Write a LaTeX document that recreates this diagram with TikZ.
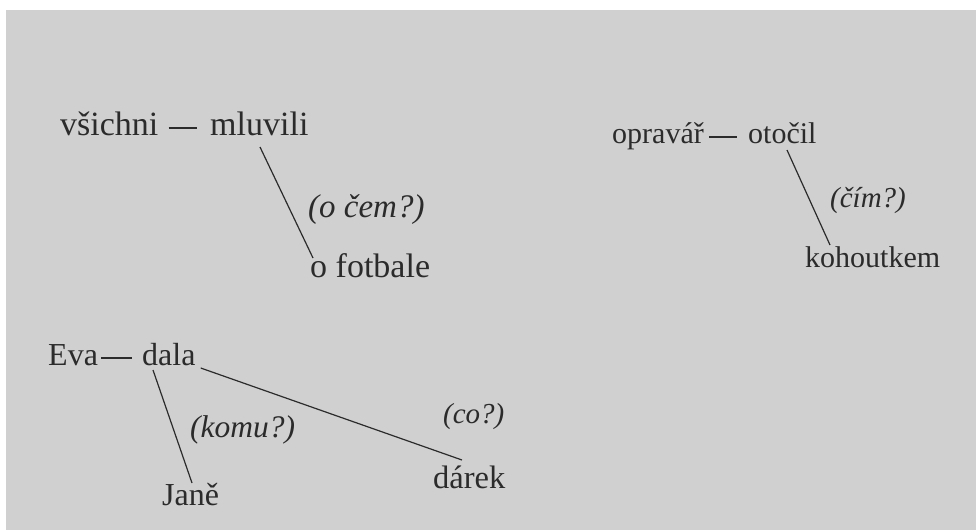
\documentclass[tikz,border=0pt]{standalone}
\usepackage{fontspec}
\setmainfont{Liberation Serif}
\usepackage{tikz}
\usetikzlibrary{positioning,calc}
\usepackage{xcolor}
\definecolor{paper}{HTML}{D0D0D0}
\definecolor{ink}{HTML}{2B2B2B}

\begin{document}
\begin{tikzpicture}[
    x=1pt, y=-1pt,
    every node/.style={inner sep=0pt, text=ink, anchor=base west},
    word/.style={font=\fontsize{32}{36}\selectfont},
    question/.style={font=\fontsize{31.5}{36}\selectfont\itshape},
    link/.style={draw=ink, line width=1.2pt},
    dashlink/.style={draw=ink, line width=1.8pt}
]
    % page
    \fill[white] (0,0) rectangle (976,530);
    \fill[paper] (6,10) rectangle (976,530);
    \useasboundingbox (0,0) rectangle (976,530);

    % všichni mluvili o fotbale
    \node[word, font=\fontsize{34}{38}\selectfont] (vsichni) at (60,135) {všichni};
    \node[word, font=\fontsize{34}{38}\selectfont] (mluvili) at (210,135) {mluvili};
    \node[word, font=\fontsize{34}{38}\selectfont] (fotbale) at (310,277) {o fotbale};
    \node[question, font=\fontsize{33}{38}\selectfont\itshape] (ocem) at (308,217) {(o čem?)};
    \draw[dashlink, shorten <=10pt, shorten >=13pt] ([yshift=7pt]vsichni.base east) -- ([yshift=7pt]mluvili.base west);
    \draw[link] ([xshift=50pt, yshift=-12pt]mluvili.base west) -- ([xshift=3pt, yshift=19pt]fotbale.base west);

    % opravář otočil kohoutkem
    \node[word, font=\fontsize{30}{34}\selectfont] (opravar) at (612,143) {opravář};
    \node[word, font=\fontsize{30}{34}\selectfont] (otocil) at (748,143) {otočil};
    \node[word, font=\fontsize{30}{34}\selectfont] (kohoutkem) at (805,267) {kohoutkem};
    \node[question, font=\fontsize{29}{34}\selectfont\itshape] (cim) at (830,207) {(čím?)};
    \draw[dashlink, shorten <=5pt, shorten >=11pt] ([yshift=6pt]opravar.base east) -- ([yshift=6pt]otocil.base west);
    \draw[link] ([xshift=39pt, yshift=-7pt]otocil.base west) -- ([xshift=25pt, yshift=22pt]kohoutkem.base west);

    % Eva dala Janě dárek
    \node[word] (eva) at (48,365) {Eva};
    \node[word] (dala) at (142,365) {dala};
    \node[word] (jane) at (162,505) {Janě};
    \node[word, font=\fontsize{32.5}{36}\selectfont] (darek) at (433,488) {dárek};
    \node[question] (komu) at (190,437) {(komu?)};
    \node[question, font=\fontsize{29}{34}\selectfont\itshape] (co) at (443,423) {(co?)};
    \draw[dashlink, shorten <=3pt, shorten >=10pt] ([yshift=7pt]eva.base east) -- ([yshift=7pt]dala.base west);
    \draw[link] ([xshift=11pt, yshift=-5pt]dala.base west) -- ([xshift=30pt, yshift=22pt]jane.base west);
    \draw[link] ([xshift=5pt, yshift=-3pt]dala.base east) -- ([xshift=29pt, yshift=28pt]darek.base west);
\end{tikzpicture}
\end{document}
